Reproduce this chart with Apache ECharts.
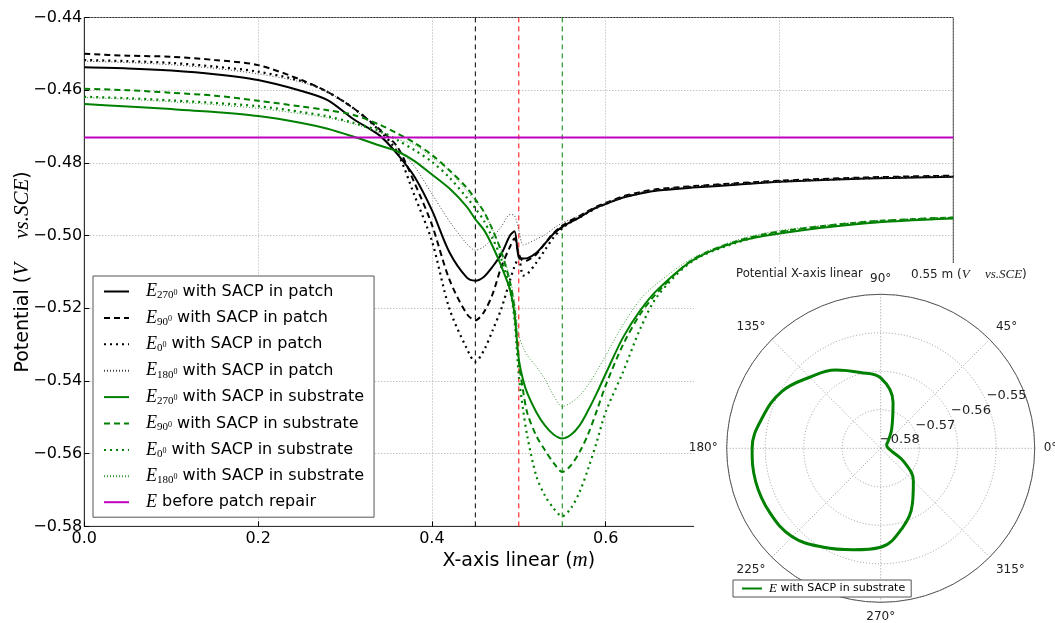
<!DOCTYPE html>
<html>
<head>
<meta charset="utf-8">
<script src="https://cdn.jsdelivr.net/npm/echarts@6/dist/echarts.min.js"></script>
<style>
html,body{margin:0;padding:0;background:#fff;}
#chart{width:1055px;height:623px;}
</style>
</head>
<body>
<div id="chart"></div>
<script>
// ---- data ----
const xs = [0, 0.05, 0.1, 0.15, 0.2, 0.25, 0.28, 0.31, 0.34, 0.36, 0.38, 0.40, 0.42, 0.44, 0.45, 0.46, 0.47, 0.48, 0.49, 0.495, 0.5, 0.505, 0.51, 0.52, 0.53, 0.54, 0.55, 0.56, 0.57, 0.58, 0.59, 0.60, 0.62, 0.64, 0.66, 0.70, 0.75, 0.80, 0.90, 1.00];

const patch270 = [-0.4537, -0.4540, -0.4546, -0.4556, -0.4572, -0.4602, -0.4627, -0.4680, -0.4725, -0.4775, -0.4838, -0.4930, -0.5045, -0.5115, -0.5124, -0.5113, -0.5085, -0.5050, -0.4999, -0.4988, -0.5060, -0.5063, -0.5062, -0.5048, -0.5022, -0.4995, -0.4976, -0.4962, -0.4950, -0.4935, -0.4922, -0.4913, -0.4895, -0.4884, -0.4876, -0.4868, -0.4860, -0.4852, -0.4843, -0.4838];
const patch90 = [-0.4500, -0.4505, -0.4508, -0.4517, -0.4531, -0.4572, -0.4605, -0.4650, -0.4708, -0.4755, -0.4855, -0.4970, -0.5120, -0.5215, -0.5233, -0.5210, -0.5160, -0.5085, -0.5030, -0.5008, -0.5050, -0.5070, -0.5068, -0.5052, -0.5022, -0.4993, -0.4973, -0.4958, -0.4946, -0.4932, -0.4920, -0.4910, -0.4892, -0.4880, -0.4872, -0.4864, -0.4856, -0.4849, -0.4840, -0.4835];
const patch0 = [-0.4517, -0.4520, -0.4525, -0.4535, -0.4549, -0.4575, -0.4605, -0.4650, -0.4712, -0.4770, -0.4890, -0.5015, -0.5200, -0.5310, -0.5347, -0.5315, -0.5260, -0.5200, -0.5122, -0.5085, -0.5062, -0.5110, -0.5105, -0.5075, -0.5040, -0.5005, -0.4980, -0.4963, -0.4950, -0.4936, -0.4923, -0.4913, -0.4895, -0.4883, -0.4875, -0.4866, -0.4858, -0.4851, -0.4842, -0.4837];
const patch180 = [-0.4520, -0.4524, -0.4530, -0.4540, -0.4555, -0.4578, -0.4605, -0.4652, -0.4710, -0.4758, -0.4810, -0.4885, -0.4960, -0.5022, -0.5040, -0.5030, -0.5005, -0.4975, -0.4942, -0.4945, -0.4985, -0.5026, -0.5022, -0.5010, -0.4998, -0.4980, -0.4965, -0.4955, -0.4945, -0.4933, -0.4921, -0.4911, -0.4894, -0.4882, -0.4874, -0.4866, -0.4858, -0.4851, -0.4842, -0.4837];

const sub270 = [-0.4638, -0.4645, -0.4652, -0.4660, -0.4671, -0.4690, -0.4706, -0.4728, -0.4752, -0.4768, -0.4795, -0.4832, -0.4870, -0.4920, -0.4955, -0.4985, -0.5030, -0.5085, -0.5150, -0.5215, -0.5340, -0.5398, -0.5435, -0.5485, -0.5522, -0.5547, -0.5558, -0.5548, -0.5522, -0.5480, -0.5432, -0.5380, -0.5280, -0.5205, -0.5148, -0.5068, -0.5018, -0.4994, -0.4966, -0.4953];
const sub90 = [-0.4596, -0.4600, -0.4607, -0.4615, -0.4629, -0.4645, -0.4655, -0.4668, -0.4695, -0.4719, -0.4745, -0.4778, -0.4820, -0.4868, -0.4900, -0.4935, -0.4985, -0.5045, -0.5130, -0.5200, -0.5345, -0.5428, -0.5490, -0.5550, -0.5590, -0.5625, -0.5650, -0.5632, -0.5595, -0.5545, -0.5480, -0.5412, -0.5300, -0.5215, -0.5155, -0.5066, -0.5016, -0.4989, -0.4962, -0.4950];
const sub0 = [-0.4618, -0.4622, -0.4628, -0.4635, -0.4644, -0.4660, -0.4672, -0.4690, -0.4712, -0.4737, -0.4765, -0.4797, -0.4840, -0.4895, -0.4925, -0.4960, -0.5008, -0.5065, -0.5150, -0.5230, -0.5385, -0.5480, -0.5555, -0.5660, -0.5715, -0.5750, -0.5772, -0.5750, -0.5705, -0.5640, -0.5565, -0.5485, -0.5375, -0.5255, -0.5165, -0.5070, -0.5020, -0.4991, -0.4963, -0.4951];
const sub180 = [-0.4620, -0.4625, -0.4632, -0.4640, -0.4650, -0.4665, -0.4676, -0.4693, -0.4717, -0.4735, -0.4750, -0.4785, -0.4822, -0.4878, -0.4905, -0.4935, -0.4985, -0.5040, -0.5120, -0.5180, -0.5272, -0.5308, -0.5330, -0.5360, -0.5395, -0.5440, -0.5470, -0.5460, -0.5440, -0.5410, -0.5372, -0.5330, -0.5245, -0.5175, -0.5130, -0.5062, -0.5013, -0.4986, -0.4962, -0.4950];

const beforeRepairX = [0, 1];
const beforeRepair = [-0.473, -0.473];

const markX = [0.45, 0.50, 0.55];
const markColors = ['#000000', '#ff0000', '#008000'];

const polarAngles = [0, 15, 30, 45, 60, 75, 90, 105, 120, 135, 150, 165, 180, 195, 210, 225, 240, 255, 270, 285, 300, 315, 330, 345, 360];
const polarValues = [-0.5780, -0.5783, -0.5782, -0.5772, -0.5743, -0.5676, -0.5617, -0.5596, -0.5565, -0.5539, -0.5504, -0.5483, -0.5466, -0.5464, -0.5467, -0.5475, -0.5503, -0.5527, -0.5543, -0.5585, -0.5635, -0.5680, -0.5730, -0.5770, -0.5780];

const xTicks = { min: 0, max: 1, interval: 0.2 };
const yTicks = { min: -0.58, max: -0.44, interval: 0.02 };
const rTicks = { min: -0.58, max: -0.54, interval: 0.01 };

// ---- build ----
const pairs = (xv, yv) => xv.map((x, i) => [x, yv[i]]);
const fmt2 = v => (v < 0 ? '\u2212' : '') + Math.abs(v).toFixed(2);

const SANS = 'DejaVu Sans';
const SERIF = 'Liberation Serif';
const G = '#008000';

const legendText = {
  p270: '{e|E}{sub|270}{sup|0}{t| with SACP in patch}',
  p90: '{e|E}{sub|90}{sup|0}{t| with SACP in patch}',
  p0: '{e|E}{sub|0}{sup|0}{t| with SACP in patch}',
  p180: '{e|E}{sub|180}{sup|0}{t| with SACP in patch}',
  s270: '{e|E}{sub|270}{sup|0}{t| with SACP in substrate}',
  s90: '{e|E}{sub|90}{sup|0}{t| with SACP in substrate}',
  s0: '{e|E}{sub|0}{sup|0}{t| with SACP in substrate}',
  s180: '{e|E}{sub|180}{sup|0}{t| with SACP in substrate}',
  before: '{e|E}{t| before patch repair}',
  polar: '{e|E}{t| with SACP in substrate}'
};

function lineSeries(name, data, color, width, type, z) {
  return {
    name: name, type: 'line', data: data, showSymbol: false, symbol: 'none',
    smooth: 0.3, xAxisIndex: 0, yAxisIndex: 0,
    lineStyle: { color: color, width: width, type: type },
    itemStyle: { color: color },
    emphasis: { disabled: true }, animation: false, z: z || 3
  };
}

const series = [];
// vertical reference lines (drawn first, beneath the curves)
markX.forEach((x, i) => {
  const s = lineSeries('mark' + i, [[x, yTicks.min], [x, yTicks.max]], markColors[i], 1, [5, 4], 2);
  s.smooth = false;
  series.push(s);
});

series.push(
  lineSeries('p270', pairs(xs, patch270), '#000000', 2, 'solid'),
  lineSeries('p90', pairs(xs, patch90), '#000000', 2, [6, 4]),
  lineSeries('p0', pairs(xs, patch0), '#000000', 2.2, [2, 4]),
  lineSeries('p180', pairs(xs, patch180), '#444444', 1, [1, 2]),
  lineSeries('s270', pairs(xs, sub270), G, 2, 'solid'),
  lineSeries('s90', pairs(xs, sub90), G, 2, [6, 4]),
  lineSeries('s0', pairs(xs, sub0), G, 2.2, [2, 4]),
  lineSeries('s180', pairs(xs, sub180), '#3a9a3a', 1, [1, 2]),
  lineSeries('before', pairs(beforeRepairX, beforeRepair), '#bf00bf', 2, 'solid')
);

series.push({
  name: 'polar', type: 'line', coordinateSystem: 'polar', polarIndex: 0,
  data: polarAngles.map((a, i) => [polarValues[i], a]),
  smooth: 0.4, showSymbol: false, symbol: 'none', zlevel: 2, z: 5,
  lineStyle: { color: G, width: 3 }, itemStyle: { color: G }, animation: false
});

const richLegend = {
  e: { fontFamily: SERIF, fontStyle: 'italic', fontSize: 18, lineHeight: 20, color: '#000', padding: [0, 0, 0, 12] },
  sub: { fontFamily: SERIF, fontSize: 11, lineHeight: 12, padding: [8, 0, 0, 0], color: '#000' },
  sup: { fontFamily: SERIF, fontSize: 8, lineHeight: 10, padding: [2, 0, 0, 0], color: '#000' },
  t: { fontFamily: SANS, fontSize: 16, lineHeight: 20, color: '#000' }
};

const option = {
  backgroundColor: '#fff',
  animation: false,
  textStyle: { fontFamily: SANS },
  grid: { left: 84.3, right: 101.7, top: 17.5, bottom: 96.6, show: true, borderColor: '#333', borderWidth: 1, outerBoundsMode: 'none', containLabel: false },
  xAxis: {
    type: 'value', min: xTicks.min, max: xTicks.max, interval: xTicks.interval,
    name: 'X-axis linear ({i|m})', nameLocation: 'middle', nameGap: 24, nameMoveOverlap: false,
    nameTextStyle: { fontSize: 19, color: '#000', rich: { i: { fontFamily: SERIF, fontStyle: 'italic', fontSize: 21 } } },
    axisLine: { lineStyle: { color: '#333' } },
    axisTick: { inside: true, length: 5, lineStyle: { color: '#000' } },
    axisLabel: { fontSize: 16, color: '#000', margin: 4, formatter: v => v.toFixed(1) },
    splitLine: { show: true, lineStyle: { color: '#aaa', type: [1, 2] } }
  },
  yAxis: {
    type: 'value', min: yTicks.min, max: yTicks.max, interval: yTicks.interval,
    name: 'Potential ({i|V}    {i|vs.SCE})', nameLocation: 'middle', nameGap: 51, nameRotate: 90, nameMoveOverlap: false,
    nameTextStyle: { fontSize: 19, color: '#000', rich: { i: { fontFamily: SERIF, fontStyle: 'italic', fontSize: 21 } } },
    axisLine: { show: true, lineStyle: { color: '#333' } },
    axisTick: { show: true, inside: true, length: 5, lineStyle: { color: '#000' } },
    axisLabel: { fontSize: 16, color: '#000', margin: 2, formatter: v => fmt2(v) },
    splitLine: { show: true, lineStyle: { color: '#aaa', type: [1, 2] } }
  },
  polar: [
    { center: [880.7, 448.3], radius: 154 },
    { center: [880.7, 448.3], radius: 154 }
  ],
  angleAxis: [
    {
      polarIndex: 0, type: 'value', min: 0, max: 360, interval: 45, startAngle: 0, clockwise: false, zlevel: 2,
      axisLine: { lineStyle: { color: '#555', width: 1 } },
      axisTick: { show: false },
      axisLabel: { fontSize: 12, color: '#222', margin: 9, formatter: v => v === 360 ? '' : v + '\u00b0' },
      splitLine: { show: true, lineStyle: { color: '#999', type: [1, 2] } }
    },
    {
      polarIndex: 1, type: 'value', min: 0, max: 360, startAngle: 22.5, clockwise: false, show: false, zlevel: 2
    }
  ],
  radiusAxis: [
    {
      polarIndex: 0, type: 'value', min: rTicks.min, max: rTicks.max, interval: rTicks.interval, zlevel: 2,
      axisLine: { show: false }, axisTick: { show: false }, axisLabel: { show: false },
      splitLine: { show: true, lineStyle: { color: '#999', type: [1, 2] } }
    },
    {
      polarIndex: 1, type: 'value', min: rTicks.min, max: rTicks.max, interval: rTicks.interval, zlevel: 2,
      axisLine: { show: false }, axisTick: { show: false }, splitLine: { show: false },
      axisLabel: {
        fontSize: 13, color: '#222', margin: 2, align: 'left', verticalAlign: 'bottom',
        formatter: v => Math.abs(v + 0.54) < 1e-6 ? '' : fmt2(v)
      }
    }
  ],
  title: [
    { text: 'Potential X-axis linear', left: 731, top: 263, zlevel: 2,
      textStyle: { fontSize: 11.7, fontWeight: 'normal', color: '#222', fontFamily: SANS } },
    { text: '0.55 m ({i|V}    {i|vs.SCE})', left: 906, top: 263, zlevel: 2,
      textStyle: { fontSize: 12, fontWeight: 'normal', color: '#222', fontFamily: SANS,
        rich: { i: { fontFamily: SERIF, fontStyle: 'italic', fontSize: 13, color: '#222' } } } }
  ],
  legend: [
    {
      data: ['p270', 'p90', 'p0', 'p180', 's270', 's90', 's0', 's180', 'before'],
      orient: 'vertical', left: 93, top: 276, itemWidth: 25, itemHeight: 14, itemGap: 7.4,
      padding: [6, 10, 6, 10], backgroundColor: '#fff', borderColor: '#555', borderWidth: 1, borderRadius: 0,
      selectedMode: false, z: 10,
      itemStyle: { opacity: 0 },
      formatter: n => legendText[n],
      textStyle: { fontSize: 16, color: '#000', rich: richLegend }
    },
    {
      data: ['polar'], orient: 'vertical', left: 733, top: 580, itemWidth: 20, itemHeight: 10,
      padding: [2, 6, 2, 8], backgroundColor: '#fff', borderColor: '#555', borderWidth: 1, borderRadius: 0,
      selectedMode: false, zlevel: 2,
      itemStyle: { opacity: 0 },
      formatter: n => legendText[n],
      textStyle: { fontSize: 11, color: '#000', rich: {
        e: { fontFamily: SERIF, fontStyle: 'italic', fontSize: 13, lineHeight: 14, color: '#000', padding: [0, 0, 0, 2] },
        t: { fontFamily: SANS, fontSize: 11, lineHeight: 14, color: '#000' } } }
    }
  ],
  graphic: [
    { type: 'rect', zlevel: 1, silent: true, shape: { x: 694, y: 263, width: 361, height: 360 }, style: { fill: '#fff' } }
  ],
  series: series
};

const chart = echarts.init(document.getElementById('chart'), null, { renderer: 'canvas' });
chart.setOption(option);
</script>
</body>
</html>
